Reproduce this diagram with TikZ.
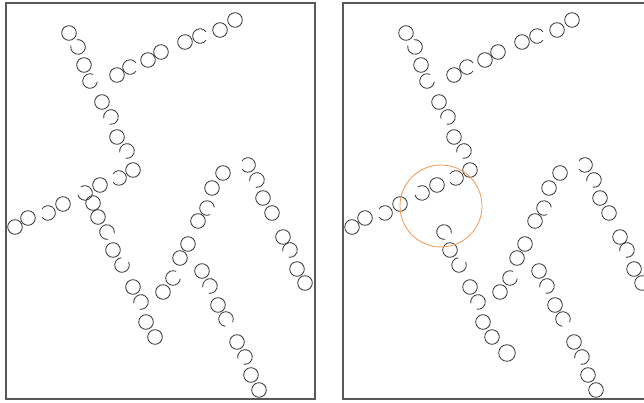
\documentclass[tikz,border=0pt]{standalone}
\usepackage{tikz}

% ring centres of the left panel (the right panel is the same, shifted)
\newcommand{\ringlist}{69/33, 84/65, 102/102, 117/137, 133/170, 100/185, 63/204, 28/218, 15/227,
  113/250, 133/287, 146/322, 155/337, 163/292, 180/258, 188/244, 198/221, 212/188, 223/173,
  263/198, 272/213, 283/237, 297/269, 305/283, 202/271, 218/305, 237/342, 251/375, 259/390,
  117/75, 148/60, 161/52, 185/42, 220/30, 235/20}
% broken rings: centre and direction of the gap
\newcommand{\gaplist}{78/47/225, 90/81/330, 111/117/135, 127/151/135, 119/178/180, 85/193/200,
  48/213/180, 107/232/45, 122/265/300, 141/302/135, 173/278/330, 207/208/30, 248/165/180,
  257/180/135, 290/250/135, 210/286/135, 226/319/60, 245/357/135, 130/67/0, 200/36/0}

\begin{document}
\begin{tikzpicture}[x=1pt,y=-1pt,
  ring/.style={draw=black!80, line width=0.8pt},
  panel/.style={draw=black!65, line width=1.3pt},
  highlight/.style={draw={rgb,255:red,242;green,150;blue,80}, line width=0.8pt}]
\useasboundingbox (0,0) rectangle (644,403);
\clip (0,0) rectangle (644,403);

% panels
\draw[panel] (6,3) rectangle (315,399);
\draw[panel] (343,3) rectangle (660,399);

% left panel
\foreach \x/\y in \ringlist
  \draw[ring] (\x,\y) circle[radius=7.3];
\foreach \x/\y/\g in \gaplist
  \draw[ring] ([shift={(\g+35:7.3)}]\x,\y) arc[start angle=\g+35, end angle=\g+325, radius=7.3];
\draw[ring] (93,203) circle[radius=7.3];
\draw[ring] (98,217) circle[radius=7.3];

% right panel
\begin{scope}[xshift=337pt]
\foreach \x/\y in \ringlist
  \draw[ring] (\x,\y) circle[radius=7.3];
\foreach \x/\y/\g in \gaplist
  \draw[ring] ([shift={(\g+35:7.3)}]\x,\y) arc[start angle=\g+35, end angle=\g+325, radius=7.3];
\draw[ring] (170,353) circle[radius=8.3];
\end{scope}

\draw[highlight] (441,206) circle[radius=41];
\end{tikzpicture}
\end{document}
